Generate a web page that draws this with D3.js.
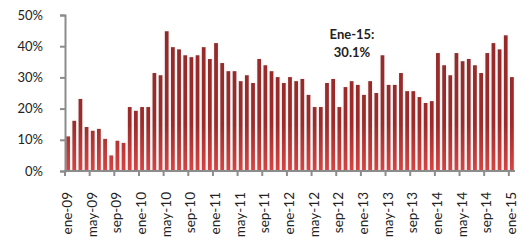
<!DOCTYPE html>
<html>
<head>
<meta charset="utf-8">
<script src="https://cdn.jsdelivr.net/npm/d3@7"></script>
<style>
  body { margin: 0; background: #fff; }
  text { font-family: Lato, "Open Sans", sans-serif; fill: #222; }
</style>
</head>
<body>
<div id="chart"></div>
<script>
const monthNames = ['ene', 'feb', 'mar', 'abr', 'may', 'jun', 'jul', 'ago', 'sep', 'oct', 'nov', 'dic'];

// ene-09 .. ene-15, monthly share (%)
const values = [
  11.1, 16.1, 23.1, 14.1, 12.9, 13.5, 10.3, 5.0, 9.7, 9.0, 20.5, 19.3,
  20.5, 20.5, 31.4, 30.7, 44.8, 39.7, 39.0, 37.1, 36.5, 37.1, 39.7, 35.9,
  41.0, 34.6, 32.0, 32.0, 28.8, 30.7, 28.2, 35.9, 33.9, 32.0, 30.1, 28.2,
  30.1, 28.8, 29.5, 24.4, 20.5, 20.5, 28.2, 29.5, 20.5, 26.9, 28.8, 27.6,
  24.4, 28.8, 25.0, 37.1, 27.6, 27.6, 31.4, 25.6, 25.6, 23.7, 21.8, 22.4,
  37.8, 33.9, 30.7, 37.8, 35.2, 35.9, 33.9, 31.4, 37.8, 41.0, 39.0, 43.5,
  30.1
];
const months = values.map((v, i) => monthNames[i % 12] + '-' + String(9 + Math.floor(i / 12)).padStart(2, '0'));
const yTicks = [0, 10, 20, 30, 40, 50];
const annotation = ['Ene-15:', '30.1%'];

const width = 518,
  height = 244;
const margin = { top: 15, right: 3, bottom: 73, left: 65 };

const svg = d3.select('#chart').append('svg').attr('width', width).attr('height', height);

const defs = svg.append('defs');
const grad = defs.append('linearGradient')
  .attr('id', 'barGrad')
  .attr('gradientUnits', 'userSpaceOnUse')
  .attr('x1', 0).attr('x2', 0)
  .attr('y1', margin.top).attr('y2', height - margin.bottom);
grad.append('stop').attr('offset', '0%').attr('stop-color', '#922828');
grad.append('stop').attr('offset', '70%').attr('stop-color', '#9e2b2b');
grad.append('stop').attr('offset', '100%').attr('stop-color', '#d84442');

const shadow = defs.append('filter').attr('id', 'glow')
  .attr('x', '-100%').attr('y', '-10%').attr('width', '300%').attr('height', '120%');
shadow.append('feGaussianBlur').attr('in', 'SourceAlpha').attr('stdDeviation', 1.6).attr('result', 'b');
shadow.append('feColorMatrix').attr('in', 'b').attr('type', 'matrix')
  .attr('values', '0 0 0 0 0.55  0 0 0 0 0.55  0 0 0 0 0.55  0 0 0 0.35 0').attr('result', 's');
const merge = shadow.append('feMerge');
merge.append('feMergeNode').attr('in', 's');
merge.append('feMergeNode').attr('in', 'SourceGraphic');

const x = d3.scaleBand()
  .domain(months)
  .range([margin.left, width - margin.right])
  .paddingInner(0.38)
  .paddingOuter(0.19);

const y = d3.scaleLinear()
  .domain([0, 50])
  .range([height - margin.bottom, margin.top]);

// bars
svg.append('g')
  .attr('filter', 'url(#glow)')
  .selectAll('rect')
  .data(values)
  .join('rect')
  .attr('x', (d, i) => x(months[i]))
  .attr('y', d => y(d))
  .attr('width', x.bandwidth())
  .attr('height', d => y(0) - y(d))
  .attr('fill', 'url(#barGrad)');

// y axis
const yAxis = svg.append('g')
  .attr('transform', `translate(${margin.left},0)`)
  .call(d3.axisLeft(y).tickValues(yTicks).tickFormat(d => d + '%').tickSize(5).tickPadding(17));
yAxis.select('.domain').attr('stroke', '#8c8c8c').attr('stroke-width', 2);
yAxis.selectAll('.tick line').attr('stroke', '#8c8c8c').attr('stroke-width', 2);
yAxis.selectAll('.tick text').attr('font-size', 13).attr('fill', '#222')
  .style('font-family', 'Lato, "Open Sans", sans-serif');

// x axis: ticks between categories every 4 months, labels on category
const step = x.step();
const x0 = x.range()[0];
const tickPos = d3.range(0, months.length + 1, 4).map(i => x0 + i * step);
const xAxis = svg.append('g').attr('transform', `translate(0,${y(0)})`);
xAxis.append('line')
  .attr('x1', x0 - 1).attr('x2', x.range()[1])
  .attr('stroke', '#8c8c8c').attr('stroke-width', 2);
xAxis.selectAll('.xt')
  .data(tickPos)
  .join('line')
  .attr('class', 'xt')
  .attr('x1', d => d).attr('x2', d => d)
  .attr('y1', 0).attr('y2', 5)
  .attr('stroke', '#8c8c8c').attr('stroke-width', 2);
xAxis.selectAll('.xl')
  .data(months.filter((m, i) => i % 4 === 0))
  .join('text')
  .attr('class', 'xl')
  .attr('transform', d => `translate(${x(d) + x.bandwidth() / 2 + 4},21) rotate(-90)`)
  .attr('text-anchor', 'end')
  .attr('font-size', 13.5)
  .text(d => d);

// annotation
svg.append('text')
  .attr('x', 352)
  .attr('y', 39)
  .attr('text-anchor', 'middle')
  .attr('font-size', 13)
  .attr('font-weight', 'bold')
  .selectAll('tspan')
  .data(annotation)
  .join('tspan')
  .attr('x', 352)
  .attr('dy', (d, i) => (i === 0 ? 0 : '1.35em'))
  .text(d => d);
</script>
</body>
</html>
